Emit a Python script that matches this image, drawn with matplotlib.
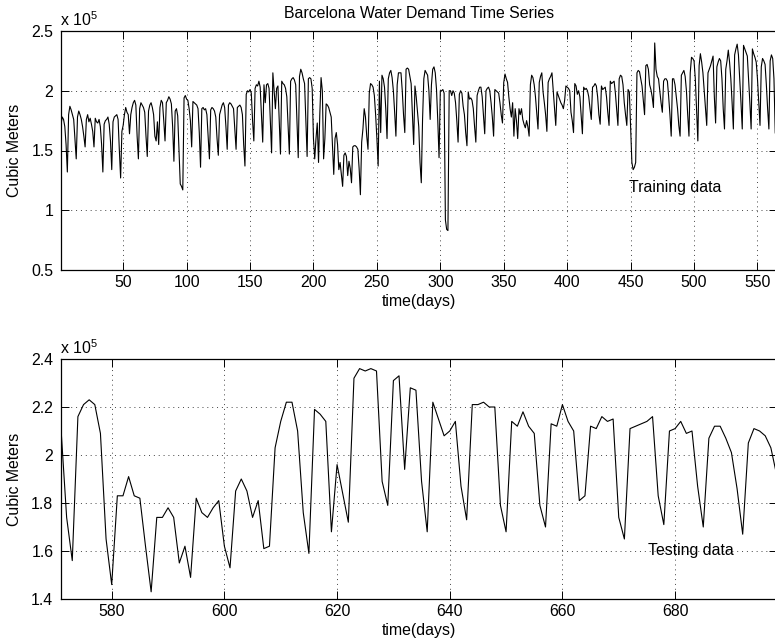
import numpy as np
import matplotlib.pyplot as plt
from matplotlib.ticker import FuncFormatter

plt.rcParams['font.family'] = ['Liberation Sans', 'DejaVu Sans']
plt.rcParams['font.size'] = 11.4
plt.rcParams['mathtext.fontset'] = 'custom'
plt.rcParams['mathtext.rm'] = 'Liberation Sans'

# training series, units of 1e5 m3, one row per week (Mon..Sun), day 1 is a Tuesday
train_weeks = [
    [1.72, 1.78, 1.76, 1.70, 1.55, 1.32],
    [1.80, 1.87, 1.84, 1.80, 1.76, 1.60, 1.43],
    [1.78, 1.83, 1.80, 1.76, 1.70, 1.62, 1.53],
    [1.76, 1.80, 1.74, 1.77, 1.72, 1.66, 1.53],
    [1.77, 1.74, 1.73, 1.76, 1.70, 1.55, 1.32],
    [1.72, 1.75, 1.76, 1.78, 1.72, 1.58, 1.34],
    [1.74, 1.78, 1.79, 1.80, 1.76, 1.50, 1.27],
    [1.66, 1.71, 1.80, 1.86, 1.82, 1.80, 1.64],
    [1.80, 1.86, 1.90, 1.92, 1.88, 1.62, 1.43],
    [1.85, 1.90, 1.88, 1.86, 1.82, 1.62, 1.45],
    [1.83, 1.88, 1.90, 1.86, 1.80, 1.62, 1.58],
    [1.74, 1.55, 1.86, 1.92, 1.90, 1.75, 1.58],
    [1.90, 1.92, 1.95, 1.93, 1.89, 1.70, 1.41],
    [1.83, 1.85, 1.79, 1.50, 1.22, 1.20, 1.17],
    [1.94, 1.96, 1.93, 1.92, 1.85, 1.75, 1.53],
    [1.91, 1.90, 1.89, 1.88, 1.85, 1.65, 1.36],
    [1.85, 1.86, 1.84, 1.85, 1.80, 1.62, 1.43],
    [1.84, 1.86, 1.85, 1.83, 1.78, 1.60, 1.46],
    [1.80, 1.84, 1.88, 1.90, 1.86, 1.70, 1.51],
    [1.88, 1.90, 1.89, 1.87, 1.85, 1.68, 1.51],
    [1.86, 1.87, 1.88, 1.86, 1.80, 1.55, 1.37],
    [1.97, 2.00, 1.99, 2.01, 1.98, 1.75, 1.58],
    [2.02, 2.05, 2.04, 2.08, 2.03, 1.80, 1.57],
    [2.05, 1.90, 2.05, 2.06, 2.02, 1.75, 1.48],
    [2.15, 2.00, 1.85, 2.02, 2.04, 1.75, 1.47],
    [2.08, 2.06, 2.05, 2.02, 1.95, 1.70, 1.47],
    [2.08, 2.10, 2.11, 2.09, 2.05, 1.75, 1.44],
    [2.12, 2.18, 2.15, 2.10, 2.06, 1.75, 1.45],
    [2.10, 2.11, 2.10, 2.02, 1.60, 1.43, 1.60],
    [1.73, 1.40, 1.80, 2.11, 2.00, 1.43, 1.60],
    [1.89, 1.88, 1.86, 1.82, 1.78, 1.55, 1.30],
    [1.60, 1.65, 1.55, 1.34, 1.40, 1.30, 1.20],
    [1.46, 1.48, 1.45, 1.29, 1.41, 1.35, 1.23],
    [1.53, 1.54, 1.54, 1.53, 1.51, 1.35, 1.13],
    [1.57, 1.68, 1.85, 1.78, 1.62, 1.51, 1.98],
    [2.06, 2.05, 2.03, 1.96, 1.80, 1.60, 1.37],
    [2.08, 1.65, 2.13, 2.10, 2.03, 1.85, 1.60],
    [2.10, 2.15, 2.17, 2.11, 2.00, 1.82, 1.62],
    [2.05, 2.15, 2.15, 2.15, 2.00, 1.80, 1.65],
    [2.18, 2.19, 2.18, 2.12, 2.06, 1.80, 1.55],
    [2.04, 1.95, 1.83, 1.70, 1.40, 1.23, 1.76],
    [2.10, 2.17, 2.15, 2.13, 2.00, 1.76, 2.05],
    [2.18, 2.20, 2.15, 2.01, 1.75, 1.44, 2.00],
    [2.00, 2.01, 1.98, 0.92, 0.84, 0.83, 2.00],
    [2.00, 1.96, 2.00, 1.98, 1.90, 1.75, 1.57],
    [1.97, 2.00, 1.98, 1.87, 1.80, 1.65, 1.54],
    [1.99, 1.93, 1.94, 1.92, 1.85, 1.70, 1.57],
    [1.96, 2.00, 2.03, 2.03, 1.95, 1.80, 1.64],
    [2.00, 2.02, 2.03, 2.00, 1.90, 1.78, 1.62],
    [2.01, 2.00, 1.99, 1.98, 1.90, 1.80, 1.73],
    [2.07, 2.14, 2.10, 2.07, 1.95, 1.85, 1.78],
    [1.90, 1.62, 1.85, 1.75, 1.60, 1.85, 1.80],
    [1.85, 1.76, 1.72, 1.69, 1.75, 1.70, 1.62],
    [2.05, 2.13, 2.11, 2.05, 1.95, 1.82, 1.68],
    [2.07, 2.12, 2.15, 1.99, 1.90, 1.80, 1.66],
    [2.07, 2.10, 2.12, 2.15, 2.00, 1.85, 1.71],
    [1.99, 1.96, 1.93, 1.90, 1.88, 1.85, 1.92],
    [2.04, 2.03, 2.02, 2.00, 1.82, 1.75, 1.65],
    [2.06, 2.04, 1.97, 2.00, 1.95, 1.80, 1.64],
    [2.03, 2.01, 2.02, 2.00, 1.95, 1.85, 1.76],
    [2.03, 2.04, 2.06, 2.04, 1.95, 1.80, 1.72],
    [2.04, 2.01, 2.02, 2.03, 1.95, 1.82, 1.71],
    [2.08, 2.06, 2.07, 2.08, 1.98, 1.85, 1.71],
    [2.10, 2.13, 2.12, 2.05, 1.90, 1.80, 1.71],
    [2.01, 1.99, 1.70, 1.40, 1.34, 1.36, 1.40],
    [2.15, 2.17, 2.16, 2.10, 2.04, 1.92, 1.80],
    [2.21, 2.22, 2.18, 2.05, 2.01, 1.95, 1.86],
    [2.40, 2.18, 2.12, 2.10, 2.00, 1.90, 1.82],
    [2.08, 2.10, 2.10, 2.08, 1.95, 1.80, 1.62],
    [2.10, 2.10, 2.05, 1.95, 1.85, 1.71, 1.62],
    [2.13, 2.15, 2.17, 2.12, 2.00, 1.80, 1.62],
    [2.15, 2.28, 2.27, 2.25, 2.10, 1.85, 1.58],
    [2.21, 2.31, 2.24, 2.15, 2.00, 1.85, 1.71],
    [2.15, 2.18, 2.21, 2.25, 2.29, 1.95, 1.73],
    [2.20, 2.24, 2.27, 2.25, 2.10, 1.85, 1.68],
    [2.18, 2.25, 2.34, 2.24, 2.10, 1.90, 1.68],
    [2.30, 2.35, 2.39, 2.30, 2.10, 1.90, 1.68],
    [2.38, 2.35, 2.32, 2.29, 2.10, 1.90, 1.68],
    [2.35, 2.31, 2.28, 2.24, 2.10, 1.90, 1.71],
    [2.20, 2.27, 2.25, 2.22, 2.05, 1.85, 1.68],
    [2.25, 2.30, 2.27, 2.10, 1.65, 1.60],
]
train_demand = np.concatenate([np.array(w) for w in train_weeks])
train_days = np.arange(1, len(train_demand) + 1)

# testing series, days 571..698
test_demand = [
    2.11, 1.74, 1.56,
    2.16, 2.21, 2.23, 2.21, 2.09, 1.65, 1.46,
    1.83, 1.83, 1.91, 1.83, 1.82, 1.62, 1.43,
    1.74, 1.74, 1.78, 1.74, 1.55, 1.62, 1.49,
    1.82, 1.76, 1.74, 1.78, 1.81, 1.62, 1.53,
    1.85, 1.90, 1.85, 1.74, 1.81, 1.61, 1.62,
    2.03, 2.14, 2.22, 2.22, 2.10, 1.76, 1.59,
    2.19, 2.17, 2.14, 1.68, 1.96, 1.84, 1.72,
    2.32, 2.36, 2.35, 2.36, 2.35, 1.89, 1.79,
    2.31, 2.33, 1.94, 2.28, 2.27, 1.89, 1.68,
    2.22, 2.15, 2.08, 2.10, 2.14, 1.87, 1.73,
    2.21, 2.21, 2.22, 2.20, 2.20, 1.79, 1.68,
    2.14, 2.12, 2.18, 2.12, 2.09, 1.79, 1.70,
    2.13, 2.12, 2.21, 2.14, 2.10, 1.81, 1.83,
    2.12, 2.11, 2.16, 2.14, 2.15, 1.74, 1.65,
    2.11, 2.12, 2.13, 2.14, 2.16, 1.83, 1.71,
    2.10, 2.11, 2.14, 2.09, 2.10, 1.87, 1.70,
    2.07, 2.12, 2.12, 2.07, 2.01, 1.86, 1.67,
    2.05, 2.11, 2.10, 2.08, 2.03, 1.92,
]
test_days = np.arange(571, 571 + len(test_demand))

W, H = 775, 643
fig = plt.figure(figsize=(W / 100, H / 100), dpi=100)

def px_axes(left, top, right, bottom):
    return fig.add_axes([left / W, 1 - bottom / H, (right - left) / W, (bottom - top) / H])

def style(ax):
    ax.tick_params(direction='in', length=6, width=0.7, top=True, right=True)
    ax.tick_params(axis='x', pad=3.5)
    ax.tick_params(axis='y', pad=5.5)
    ax.grid(True, linestyle=(0, (1, 4)), color='#444444', linewidth=0.7)
    for s in ax.spines.values():
        s.set_linewidth(0.9)
    ax.yaxis.set_major_formatter(FuncFormatter(lambda v, p: '%g' % v))

left, right = 61, 776.5
xmid = (left + right) / 2 / W

ax1 = px_axes(left, 31, right, 270)
ax1.plot(train_days, train_demand, color='black', linewidth=0.8)
ax1.set_xlim(train_days[0], train_days[-1])
ax1.set_ylim(0.5, 2.5)
ax1.set_xticks(np.arange(50, 551, 50))
ax1.set_yticks([0.5, 1, 1.5, 2, 2.5])
style(ax1)
ax1.set_xlabel('time(days)', labelpad=3)
ax1.set_ylabel('Cubic Meters', labelpad=7)
ax1.text(449, 1.19, 'Training data', va='center', ha='left')
fig.text(xmid, 1 - 14 / H, 'Barcelona Water Demand Time Series', ha='center', va='center')
fig.text(60 / W, 1 - 20 / H, r'x 10$^{\mathrm{5}}$', ha='left', va='center')

ax2 = px_axes(left, 359, right, 599)
ax2.plot(test_days, test_demand, color='black', linewidth=0.8)
ax2.set_xlim(test_days[0], test_days[-1])
ax2.set_ylim(1.4, 2.4)
ax2.set_xticks(np.arange(580, 681, 20))
ax2.set_yticks([1.4, 1.6, 1.8, 2.0, 2.2, 2.4])
style(ax2)
ax2.set_xlabel('time(days)', labelpad=3)
ax2.set_ylabel('Cubic Meters', labelpad=7)
ax2.text(675.2, 1.60, 'Testing data', va='center', ha='left')
fig.text(60 / W, 1 - 348 / H, r'x 10$^{\mathrm{5}}$', ha='left', va='center')

fig.savefig('out.png', dpi=100)
